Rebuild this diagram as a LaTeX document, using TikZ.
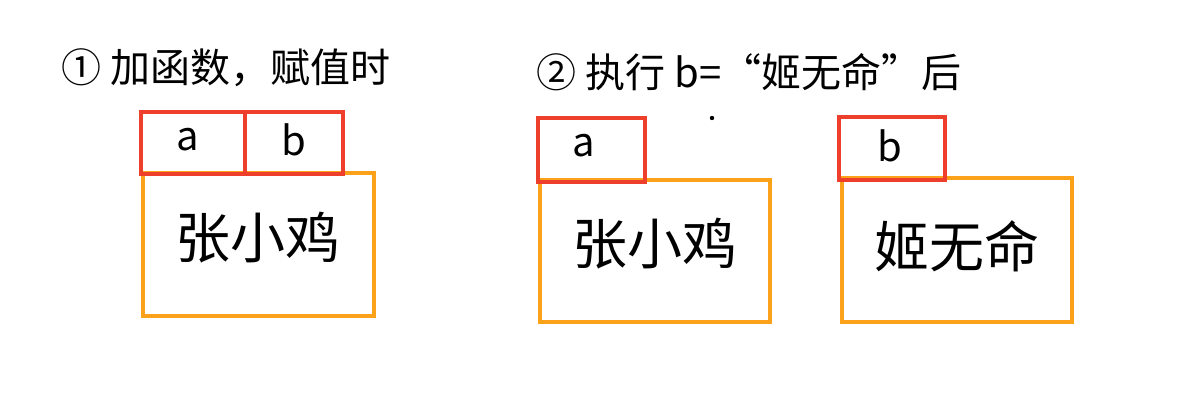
\documentclass[tikz,border=0pt]{standalone}
\usepackage{fontspec}
\setmainfont{Noto Sans CJK SC}
\newfontfamily\cjk{Noto Sans CJK SC}
\definecolor{boxred}{HTML}{EE3F2C}
\definecolor{boxorange}{HTML}{FBA11A}
\tikzset{
  varbox/.style={draw=boxred, line width=4.5pt},
  valbox/.style={draw=boxorange, line width=4pt},
  vartext/.style={font=\cjk\fontsize{40}{44}\selectfont, anchor=center},
  valtext/.style={font=\cjk\fontsize{55}{60}\selectfont, anchor=center},
  titletext/.style={font=\cjk\fontsize{40}{44}\selectfont, anchor=west}
}
\begin{document}
\begin{tikzpicture}[x=1pt,y=-1pt]
\useasboundingbox[fill=white] (0,0) rectangle (1196,406);
% titles
\node[titletext] (t1) at (58,68) {① 加函数，赋值时};
\node[titletext] (t2) at (533,72) {② 执行 b=“姬无命”后};
\fill (712,118) circle (2.2pt);
% panel 1
\draw[valbox] (143,173) rectangle (374,316);
\draw[varbox] (141,112) rectangle (245,174);
\draw[varbox] (245,112) rectangle (343,174);
\node[vartext] (a1) at (188,140) {a};
\node[vartext] (b1) at (294,140) {b};
\node[valtext] (v1) at (258,238) {张小鸡};
% panel 2
\draw[valbox] (540,180) rectangle (770,322);
\draw[varbox] (538,118) rectangle (645,182);
\node[vartext] (a2) at (584,146) {a};
\node[valtext] (v2) at (655,244) {张小鸡};
% panel 3
\draw[valbox] (842,178) rectangle (1072,322);
\draw[varbox] (839,117) rectangle (945,180);
\node[vartext] (b2) at (890,146) {b};
\node[valtext] (v3) at (957,246) {姬无命};
\end{tikzpicture}
\end{document}
